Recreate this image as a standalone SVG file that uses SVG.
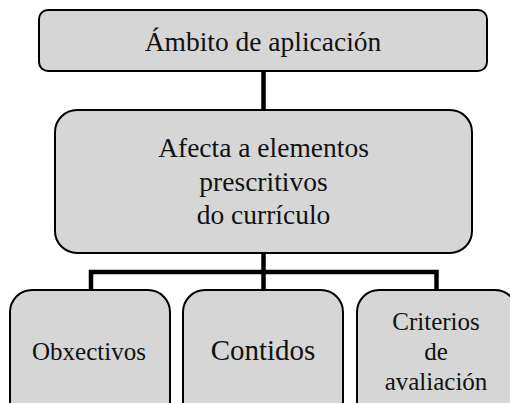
<svg xmlns="http://www.w3.org/2000/svg" width="510" height="403" viewBox="0 0 510 403">
<style>
.box{fill:#d6d6d6;stroke:#000;stroke-width:2}
.t{font-family:"Liberation Serif","Times New Roman",serif;fill:#111;text-anchor:middle}
.c{stroke:#000;fill:none;stroke-width:4.5}
</style>
<rect width="510" height="403" fill="#fff"/>
<g id="connectors">
<line class="c" x1="263.5" y1="71" x2="263.5" y2="110"/>
<line class="c" x1="263.5" y1="253" x2="263.5" y2="290"/>
<polyline class="c" points="91,290 91,272 436.5,272 436.5,290"/>
</g>
<g id="ambito">
<rect class="box" x="39" y="10" width="448" height="61" rx="9"/>
<text class="t" x="263" y="51" font-size="27.5">Ámbito de aplicación</text>
</g>
<g id="afecta">
<rect class="box" x="55" y="110" width="417" height="143" rx="22"/>
<text class="t" x="263.5" y="157" font-size="27.5">Afecta a elementos</text>
<text class="t" x="263.5" y="191" font-size="27.5">prescritivos</text>
<text class="t" x="263.5" y="224" font-size="27.5">do currículo</text>
</g>
<g id="obxectivos">
<rect class="box" x="10" y="290" width="160" height="140" rx="22"/>
<text class="t" x="89" y="360" font-size="25">Obxectivos</text>
</g>
<g id="contidos">
<rect class="box" x="183" y="290" width="160" height="140" rx="22"/>
<text class="t" x="263" y="360" font-size="29">Contidos</text>
</g>
<g id="criterios">
<rect class="box" x="357" y="290" width="160" height="140" rx="22"/>
<text class="t" x="436" y="330" font-size="25">Criterios</text>
<text class="t" x="436" y="360" font-size="25">de</text>
<text class="t" x="436" y="390" font-size="25">avaliación</text>
</g>
</svg>
